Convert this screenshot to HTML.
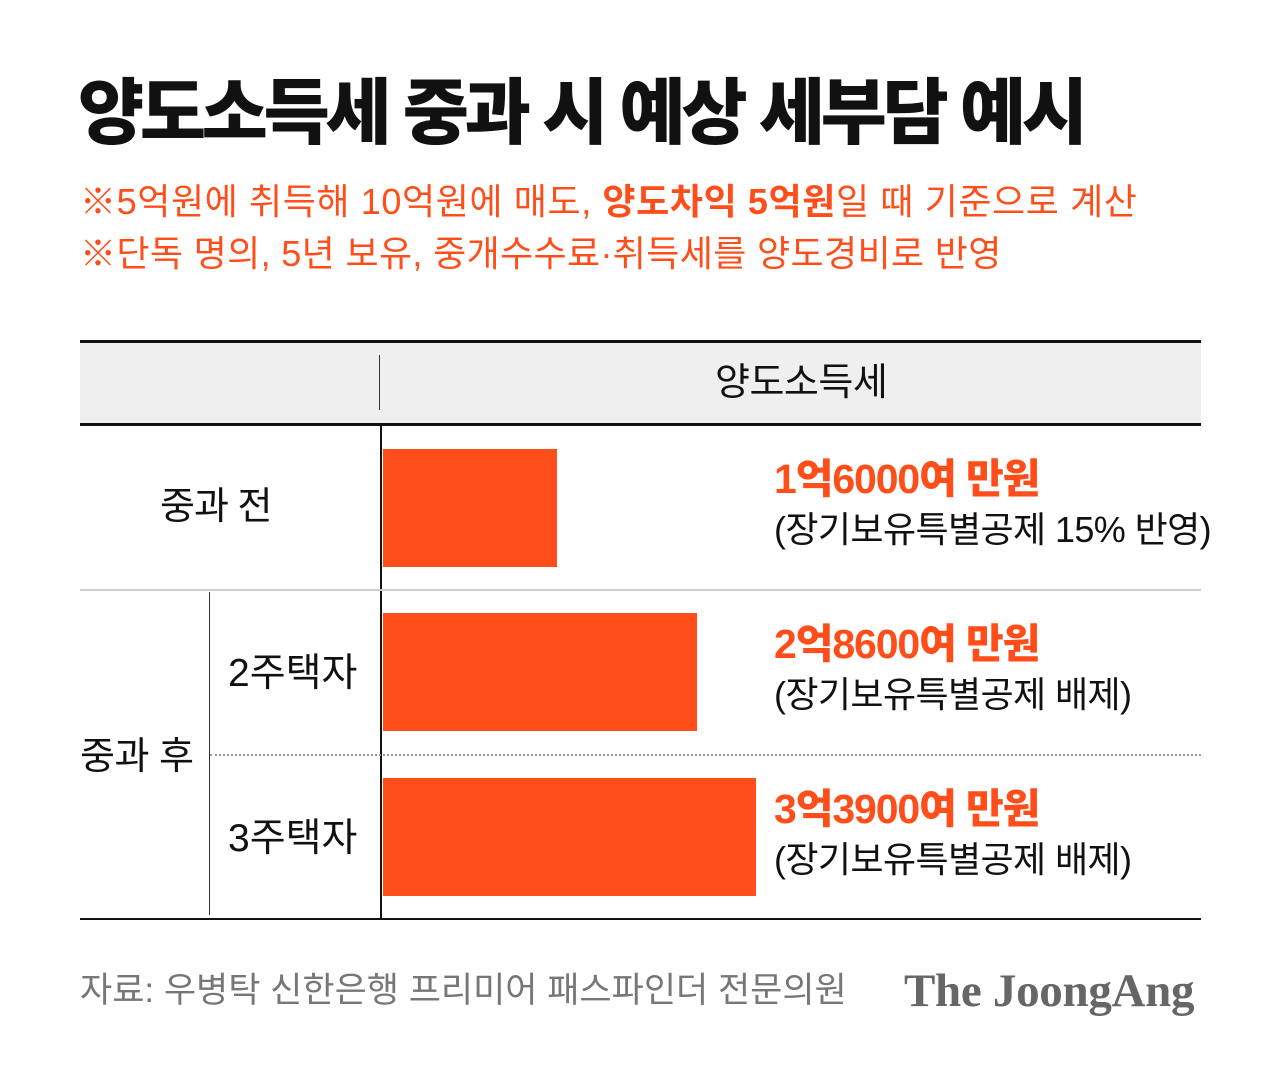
<!DOCTYPE html>
<html><head><meta charset="utf-8"><style>
body{margin:0;width:1280px;height:1069px;background:#fff;position:relative;overflow:hidden;font-family:"Liberation Sans","Noto Sans CJK KR",sans-serif;}
.a{position:absolute;white-space:nowrap;line-height:1;}
.o{color:#ff4e19}
.bar{position:absolute;background:#ff4e19;left:383px;height:118px}
.ln{position:absolute;}
</style></head><body>
<div class="a" style="left:78px;top:78px;font-size:72px;font-weight:900;letter-spacing:-4.4px;color:#111">양도소득세 중과 시 예상 세부담 예시</div>
<div class="a o" style="left:80px;top:184px;font-size:36px;letter-spacing:0.6px">※5억원에 취득해 10억원에 매도, <b>양도차익 5억원</b>일 때 기준으로 계산</div>
<div class="a o" style="left:80px;top:236px;font-size:36px;letter-spacing:0.35px">※단독 명의, 5년 보유, 중개수수료·취득세를 양도경비로 반영</div>

<div class="ln" style="left:80px;top:343px;width:1121px;height:80px;background:#efefef"></div>
<div class="ln" style="left:80px;top:340px;width:1121px;height:3px;background:#111"></div>
<div class="ln" style="left:80px;top:423px;width:1121px;height:3px;background:#111"></div>
<div class="ln" style="left:379px;top:355px;width:1px;height:55px;background:#333"></div>
<div class="a" style="left:715px;top:364px;font-size:38px;color:#111;letter-spacing:-0.5px">양도소득세</div>

<div class="ln" style="left:380px;top:425px;width:2px;height:495px;background:#111"></div>
<div class="ln" style="left:80px;top:589px;width:1121px;height:2px;background:#ccc"></div>
<div class="ln" style="left:210px;top:754px;width:991px;border-top:2px dotted #999"></div>
<div class="ln" style="left:209px;top:592px;width:1px;height:323px;background:#333"></div>
<div class="ln" style="left:80px;top:918px;width:1121px;height:2px;background:#111"></div>

<div class="bar" style="top:449px;width:174px"></div>
<div class="bar" style="top:613px;width:314px"></div>
<div class="bar" style="top:778px;width:373px"></div>

<div class="a" style="left:160px;top:488px;font-size:38px;letter-spacing:-1px;color:#111">중과 전</div>
<div class="a" style="left:80px;top:738px;font-size:38px;letter-spacing:-0.5px;color:#111">중과 후</div>
<div class="a" style="left:228px;top:654px;font-size:39px;letter-spacing:0px;color:#111">2주택자</div>
<div class="a" style="left:228px;top:819px;font-size:39px;letter-spacing:0px;color:#111">3주택자</div>

<div class="a o" style="left:774px;top:459px;font-size:41px;font-weight:900;letter-spacing:-1.1px">1억6000여 만원</div>
<div class="a" style="left:774px;top:512px;font-size:36px;letter-spacing:-0.6px;color:#111">(장기보유특별공제 15% 반영)</div>
<div class="a o" style="left:774px;top:624px;font-size:41px;font-weight:900;letter-spacing:-1.1px">2억8600여 만원</div>
<div class="a" style="left:774px;top:677px;font-size:36px;letter-spacing:-0.6px;color:#111">(장기보유특별공제 배제)</div>
<div class="a o" style="left:774px;top:789px;font-size:41px;font-weight:900;letter-spacing:-1.1px">3억3900여 만원</div>
<div class="a" style="left:774px;top:842px;font-size:36px;letter-spacing:-0.6px;color:#111">(장기보유특별공제 배제)</div>

<div class="a" style="left:80px;top:973px;font-size:35px;letter-spacing:0px;color:#777">자료: 우병탁 신한은행 프리미어 패스파인더 전문의원</div>
<div class="a" style="left:904px;top:968px;font-size:47px;font-weight:bold;font-family:'Liberation Serif',serif;color:#666;letter-spacing:-0.3px">The JoongAng</div>
</body></html>
